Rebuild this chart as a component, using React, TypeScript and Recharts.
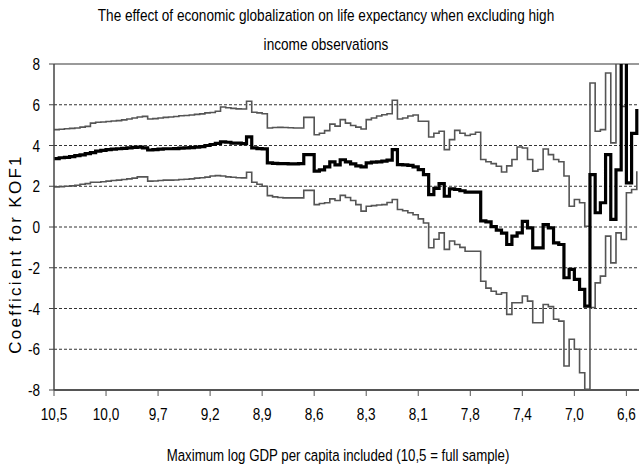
import React from "react";
import { LineChart, Line, XAxis, YAxis, CartesianGrid, ReferenceLine } from "recharts";

const xLabels = ["10,5", "10,0", "9,7", "9,2", "8,9", "8,6", "8,3", "8,1", "7,8", "7,4", "7,0", "6,6"];
const xTicks = [0, 10, 20, 30, 40, 50, 60, 70, 80, 90, 100, 110];
const yTicks = [-8, -6, -4, -2, 0, 2, 4, 6, 8];

const coefficient = [
  3.36, 3.40, 3.42, 3.45, 3.50, 3.54, 3.60, 3.65, 3.72, 3.76,
  3.80, 3.82, 3.84, 3.86, 3.88, 3.91, 3.92, 3.88, 3.78, 3.80,
  3.82, 3.84, 3.84, 3.85, 3.87, 3.88, 3.90, 3.92, 3.94, 4.00,
  4.05, 4.10, 4.18, 4.16, 4.12, 4.12, 4.09, 4.42, 3.88, 3.85,
  3.83, 3.15, 3.12, 3.11, 3.11, 3.10, 3.10, 3.11, 3.55, 3.55,
  2.74, 2.80, 2.95, 3.20, 3.05, 3.30, 3.20, 3.10, 3.00, 2.95,
  3.15, 3.18, 3.20, 3.23, 3.28, 3.80, 3.06, 3.05, 3.02, 2.95,
  2.82, 2.57, 1.59, 1.90, 2.13, 1.51, 1.87, 1.84, 1.78, 1.71,
  1.71, 1.71, 0.30, 0.25, 0.02, -0.15, -0.30, -0.86, -0.45, -0.29,
  0.28, -0.04, -1.02, -1.02, 0.12, -0.04, -0.78, -0.86, -2.49, -2.08,
  -2.57, -3.06, -3.88, 2.57, 0.70, 1.19, 3.55, 0.37, 2.80, 9.00,
  2.17, 4.60, 5.79,
];

const upperBound = [
  4.78, 4.80, 4.82, 4.84, 4.86, 4.90, 4.94, 5.10, 5.14, 5.15,
  5.18, 5.20, 5.22, 5.26, 5.30, 5.35, 5.40, 5.43, 5.30, 5.32,
  5.35, 5.38, 5.40, 5.42, 5.46, 5.47, 5.50, 5.53, 5.55, 5.60,
  5.62, 5.68, 5.89, 5.85, 5.82, 5.80, 5.79, 6.17, 5.63, 5.60,
  5.56, 4.86, 4.88, 4.89, 4.88, 4.87, 4.86, 4.86, 5.38, 5.38,
  4.53, 4.60, 4.73, 5.05, 4.95, 5.27, 5.10, 4.98, 4.90, 4.81,
  5.27, 5.35, 5.45, 5.51, 5.56, 6.22, 5.30, 5.35, 5.45, 5.50,
  5.19, 5.19, 4.42, 4.60, 4.70, 3.80, 4.29, 4.74, 4.60, 4.49,
  4.55, 4.65, 3.31, 3.20, 3.11, 2.98, 2.70, 3.00, 3.31, 3.93,
  3.88, 3.31, 2.74, 2.82, 3.83, 3.55, 3.31, 3.20, 2.50, 1.02,
  1.35, 1.19, 0.04, 7.07, 4.70, 4.78, 7.56, 4.13, 9.00, 5.92,
  9.00, 9.00, 9.00,
];

const lowerBound = [
  1.97, 1.98, 2.00, 2.02, 2.05, 2.10, 2.13, 2.20, 2.20, 2.22,
  2.25, 2.28, 2.30, 2.33, 2.36, 2.40, 2.46, 2.46, 2.25, 2.26,
  2.28, 2.30, 2.30, 2.31, 2.33, 2.34, 2.36, 2.40, 2.42, 2.45,
  2.50, 2.52, 2.50, 2.46, 2.44, 2.42, 2.41, 2.69, 2.20, 2.10,
  2.00, 1.54, 1.48, 1.45, 1.43, 1.43, 1.43, 1.43, 1.80, 1.80,
  1.10, 1.15, 1.19, 1.38, 1.30, 1.55, 1.45, 1.30, 1.10, 0.78,
  1.02, 1.05, 1.08, 1.10, 1.20, 1.35, 0.86, 0.80, 0.70, 0.60,
  0.40, 0.20, -1.02, -0.60, -0.29, -1.10, -0.69, -0.86, -1.00, -1.19,
  -1.19, -1.19, -2.66, -3.00, -3.15, -3.30, -3.23, -4.29, -3.72, -3.72,
  -3.39, -3.64, -4.70, -4.70, -3.80, -3.91, -4.53, -4.62, -6.82, -5.51,
  -6.00, -7.15, -7.97, -3.95, -2.74, -2.41, -0.45, -1.76, -0.29, -0.61,
  1.68, 1.84, 2.74,
];

const rows = coefficient.map((v, i) => ({
  i,
  coef: v,
  upper: upperBound[i],
  lower: lowerBound[i],
}));

const FONT = "'Liberation Sans', Arial, sans-serif";
const SQUEEZE = 0.8;

const XTick = (props: any) => {
  const { x, y, payload } = props;
  return (
    <g transform={`translate(${x},${y})`}>
      <text
        transform={`scale(${SQUEEZE},1)`}
        textAnchor="middle"
        dy="0.71em"
        fontFamily={FONT}
        fontSize={17}
        fill="#000"
      >
        {xLabels[Math.round(payload.value / 10)]}
      </text>
    </g>
  );
};

const YTick = (props: any) => {
  const { x, y, payload } = props;
  return (
    <g transform={`translate(${x},${y})`}>
      <text
        transform={`scale(${SQUEEZE},1)`}
        textAnchor="end"
        dy="0.355em"
        fontFamily={FONT}
        fontSize={17}
        fill="#000"
      >
        {payload.value}
      </text>
    </g>
  );
};

export default function App() {
  return (
    <div
      style={{
        position: "absolute",
        left: 0,
        top: 0,
        width: 639,
        height: 471,
        overflow: "hidden",
        background: "#fff",
      }}
    >
      <div
        style={{
          position: "absolute",
          left: 0,
          top: 1,
          width: 652,
          textAlign: "center",
          fontFamily: FONT,
          fontSize: 17,
          lineHeight: "29px",
          color: "#000",
          transform: "scaleX(0.8)",
          transformOrigin: "326px 0px",
        }}
      >
        The effect of economic globalization on life expectancy when excluding high
        <br />
        income observations
      </div>
      <div style={{ position: "absolute", left: 0, top: 0 }}>
        <LineChart
          width={642}
          height={471}
          data={rows}
          margin={{ top: 64, right: 0, bottom: 0, left: 0 }}
        >
          <CartesianGrid
            vertical={false}
            stroke="#333"
            strokeDasharray="3 2"
            strokeWidth={1}
          />
          <ReferenceLine y={8} stroke="#9a9a9a" strokeWidth={2} />
          <XAxis
            type="number"
            dataKey="i"
            domain={[0, 113]}
            ticks={xTicks}
            allowDataOverflow
            height={81}
            axisLine={{ stroke: "#555", strokeWidth: 2 }}
            tickLine={{ stroke: "#555", strokeWidth: 1 }}
            tickSize={6}
            tickMargin={12}
            tick={<XTick />}
            label={{
              content: (props: any) => {
                const vb = props.viewBox || { x: 54, y: 390, width: 588, height: 81 };
                return (
                  <g transform={`translate(338,${vb.y + 71})`}>
                    <text
                      transform="scale(0.78,1)"
                      textAnchor="middle"
                      fontFamily={FONT}
                      fontSize={17}
                      fill="#000"
                    >
                      Maximum log GDP per capita included (10,5 = full sample)
                    </text>
                  </g>
                );
              },
            }}
          />
          <YAxis
            domain={[-8, 8]}
            ticks={yTicks}
            allowDataOverflow
            width={54}
            axisLine={{ stroke: "#444", strokeWidth: 1.5 }}
            tickLine={{ stroke: "#444", strokeWidth: 1 }}
            tickSize={5}
            tickMargin={9}
            tick={<YTick />}
            label={{
              content: () => (
                <text
                  x={15}
                  y={254}
                  transform="rotate(-90 15 254)"
                  textAnchor="middle"
                  dominantBaseline="central"
                  fontFamily={FONT}
                  fontSize={17}
                  letterSpacing={2.3}
                  fill="#000"
                >
                  Coefficient for KOF1
                </text>
              ),
            }}
          />
          <Line
            type="stepAfter"
            dataKey="upper"
            stroke="#555"
            strokeWidth={1.6}
            dot={false}
            isAnimationActive={false}
          />
          <Line
            type="stepAfter"
            dataKey="lower"
            stroke="#555"
            strokeWidth={1.6}
            dot={false}
            isAnimationActive={false}
          />
          <Line
            type="stepAfter"
            dataKey="coef"
            stroke="#000"
            strokeWidth={3.2}
            dot={false}
            isAnimationActive={false}
          />
        </LineChart>
      </div>
    </div>
  );
}
